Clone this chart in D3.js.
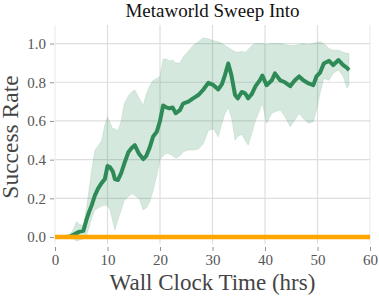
<!DOCTYPE html>
<html>
<head>
<meta charset="utf-8" />
<title>Metaworld Sweep Into</title>
<script src="https://cdn.jsdelivr.net/npm/d3@7"></script>
<style>
    body { margin: 0; background: #fff; }
    svg { display: block; }
    text { font-family: "Liberation Serif", "DejaVu Serif", serif; }
</style>
</head>
<body>
<svg id="chart" width="379" height="296"></svg>
<script>
    // wall clock time (hrs)
    const hours = [0, 1, 2, 2.8, 3.5, 4.1, 4.7, 5.4, 6.0, 6.5, 7.0, 7.6, 8.2, 8.9, 9.5, 10.0, 10.5, 11.0, 11.4, 12.0,
        12.6, 13.2, 14.0, 14.6, 15.2, 16.0, 16.8, 17.4, 18.0, 18.7, 19.4, 20.0, 20.6, 21.2, 21.8, 22.4, 23.0, 23.8, 24.4, 25.4,
        26.3, 27.3, 28.2, 29.2, 30.2, 31.1, 31.8, 32.4, 33.0, 33.6, 34.3, 34.8, 35.6, 36.2, 36.8, 37.5, 38.2, 39.0, 39.5, 40.3,
        41.3, 41.9, 42.9, 43.8, 44.8, 45.7, 46.5, 47.3, 48.3, 49.2, 49.8, 50.5, 51.2, 52.2, 53.0, 54.0, 54.9, 55.6, 56.0];
    const meanRate = [0, 0, 0, 0.003, 0.012, 0.02, 0.028, 0.032, 0.09, 0.13, 0.165, 0.215, 0.25, 0.28, 0.30, 0.367, 0.36, 0.34, 0.30, 0.295,
        0.33, 0.38, 0.44, 0.46, 0.475, 0.43, 0.403, 0.42, 0.46, 0.52, 0.545, 0.60, 0.68, 0.67, 0.665, 0.67, 0.64, 0.656, 0.69, 0.70,
        0.717, 0.734, 0.76, 0.797, 0.785, 0.763, 0.79, 0.84, 0.897, 0.837, 0.734, 0.717, 0.75, 0.743, 0.717, 0.74, 0.78, 0.81, 0.835, 0.785,
        0.81, 0.846, 0.81, 0.80, 0.78, 0.81, 0.83, 0.81, 0.794, 0.785, 0.83, 0.85, 0.897, 0.911, 0.889, 0.915, 0.889, 0.875, 0.863];
    const lowRate = [0, 0, 0, -0.005, -0.01, -0.02, -0.015, -0.01, 0.01, 0.05, 0.10, 0.14, 0.15, 0.16, 0.165, 0.16, 0.14, 0.08, 0.036, 0.09,
        0.14, 0.19, 0.21, 0.225, 0.215, 0.20, 0.14, 0.15, 0.18, 0.24, 0.32, 0.40, 0.42, 0.433, 0.43, 0.42, 0.407, 0.42, 0.44, 0.45,
        0.45, 0.455, 0.48, 0.55, 0.56, 0.518, 0.588, 0.64, 0.67, 0.62, 0.50, 0.52, 0.53, 0.50, 0.475, 0.536, 0.605, 0.656, 0.69, 0.588,
        0.64, 0.647, 0.656, 0.622, 0.57, 0.605, 0.64, 0.613, 0.588, 0.596, 0.656, 0.743, 0.82, 0.81, 0.846, 0.863, 0.83, 0.77, 0.785];
    const highRate = [0, 0, 0, 0.01, 0.04, 0.08, 0.065, 0.06, 0.15, 0.25, 0.35, 0.45, 0.47, 0.50, 0.58, 0.62, 0.59, 0.56, 0.56, 0.55,
        0.60, 0.69, 0.73, 0.75, 0.76, 0.72, 0.68, 0.74, 0.78, 0.81, 0.82, 0.83, 0.92, 0.92, 0.91, 0.915, 0.90, 0.90, 0.93, 0.96,
        0.99, 1.01, 1.03, 1.025, 1.015, 1.01, 1.0, 0.99, 0.98, 0.97, 0.958, 0.955, 0.96, 0.955, 0.97, 0.99, 1.0, 1.0, 1.0, 0.995,
        1.0, 1.0, 1.0, 0.995, 0.99, 0.99, 0.995, 1.0, 0.995, 1.0, 1.005, 1.01, 1.0, 0.975, 0.966, 0.966, 0.955, 0.95, 0.95];
    // flat baseline run
    const baseHours = [0, 60];
    const baseRate = [0, 0];

    const xTicks = [0, 10, 20, 30, 40, 50, 60];
    const yTicks = [0, 0.2, 0.4, 0.6, 0.8, 1.0];

    const margin = {left: 55, right: 9, top: 25, bottom: 52};
    const width = 379, height = 296;

    const svg = d3.select('#chart');
    const x = d3.scaleLinear().domain([0, 60]).range([margin.left, width - margin.right]);
    const y = d3.scaleLinear().domain([-0.036, 1.096]).range([height - margin.bottom, margin.top]);

    const green = '#2e8b57';
    const grid = svg.append('g');
    grid.selectAll('line.h')
        .data(yTicks)
        .enter().append('line')
        .attr('x1', x(0)).attr('x2', x(60))
        .attr('y1', d => y(d)).attr('y2', d => y(d))
        .style('stroke', '#dedede').style('stroke-width', 1.2);
    grid.selectAll('line.v')
        .data(xTicks)
        .enter().append('line')
        .attr('x1', d => x(d)).attr('x2', d => x(d))
        .attr('y1', y.range()[0]).attr('y2', y.range()[1])
        .style('stroke', '#dedede')
        .style('stroke-width', 1.2)
        .style('opacity', d => (d === 0 || d === 60) ? 0.5 : 1);

    // axes: ticks and labels only, no spines
    const xAxis = svg.append('g')
        .attr('transform', `translate(0,${height - margin.bottom + 3})`)
        .call(d3.axisBottom(x).tickValues(xTicks).tickFormat(d3.format('d')).tickSize(4).tickPadding(3));
    const yAxis = svg.append('g')
        .attr('transform', `translate(${margin.left - 1},0)`)
        .call(d3.axisLeft(y).tickValues(yTicks).tickFormat(d3.format('.1f')).tickSize(4).tickPadding(4));
    [xAxis, yAxis].forEach(a => {
        a.attr('font-family', null).attr('font-size', null);
        a.select('.domain').remove();
        a.selectAll('.tick line').style('stroke', '#777').style('stroke-width', 0.8);
        a.selectAll('.tick text')
            .style('font-family', '"Liberation Serif", serif')
            .style('font-size', '15px')
            .style('fill', '#555');
    });

    const rows = hours.map((t, i) => ({t: t, m: meanRate[i], lo: lowRate[i], hi: highRate[i]}));

    svg.append('path')
        .datum(rows)
        .attr('d', d3.area().x(d => x(d.t)).y0(d => y(d.lo)).y1(d => y(d.hi)))
        .style('fill', green).style('fill-opacity', 0.2)
        .style('stroke', green).style('stroke-opacity', 0.15).style('stroke-width', 0.8);

    svg.append('path')
        .datum(rows)
        .attr('d', d3.line().x(d => x(d.t)).y(d => y(d.m)))
        .style('fill', 'none').style('stroke', green)
        .style('stroke-width', 4).style('stroke-linejoin', 'round');

    svg.append('path')
        .datum(baseHours.map((t, i) => [t, baseRate[i]]))
        .attr('d', d3.line().x(d => x(d[0])).y(d => y(d[1])))
        .style('fill', 'none').style('stroke', '#ffa500').style('stroke-width', 4.5);

    svg.append('text')
        .attr('x', (x(0) + x(60)) / 2).attr('y', 17)
        .attr('text-anchor', 'middle')
        .style('font-size', '19px').style('fill', '#111')
        .text('Metaworld Sweep Into');
    svg.append('text')
        .attr('x', (x(0) + x(60)) / 2).attr('y', 290)
        .attr('text-anchor', 'middle')
        .style('font-size', '23px').style('fill', '#444')
        .text('Wall Clock Time (hrs)');
    svg.append('text')
        .attr('transform', 'translate(18,137) rotate(-90)')
        .attr('text-anchor', 'middle')
        .style('font-size', '23.5px').style('fill', '#444')
        .text('Success Rate');
</script>
</body>
</html>
